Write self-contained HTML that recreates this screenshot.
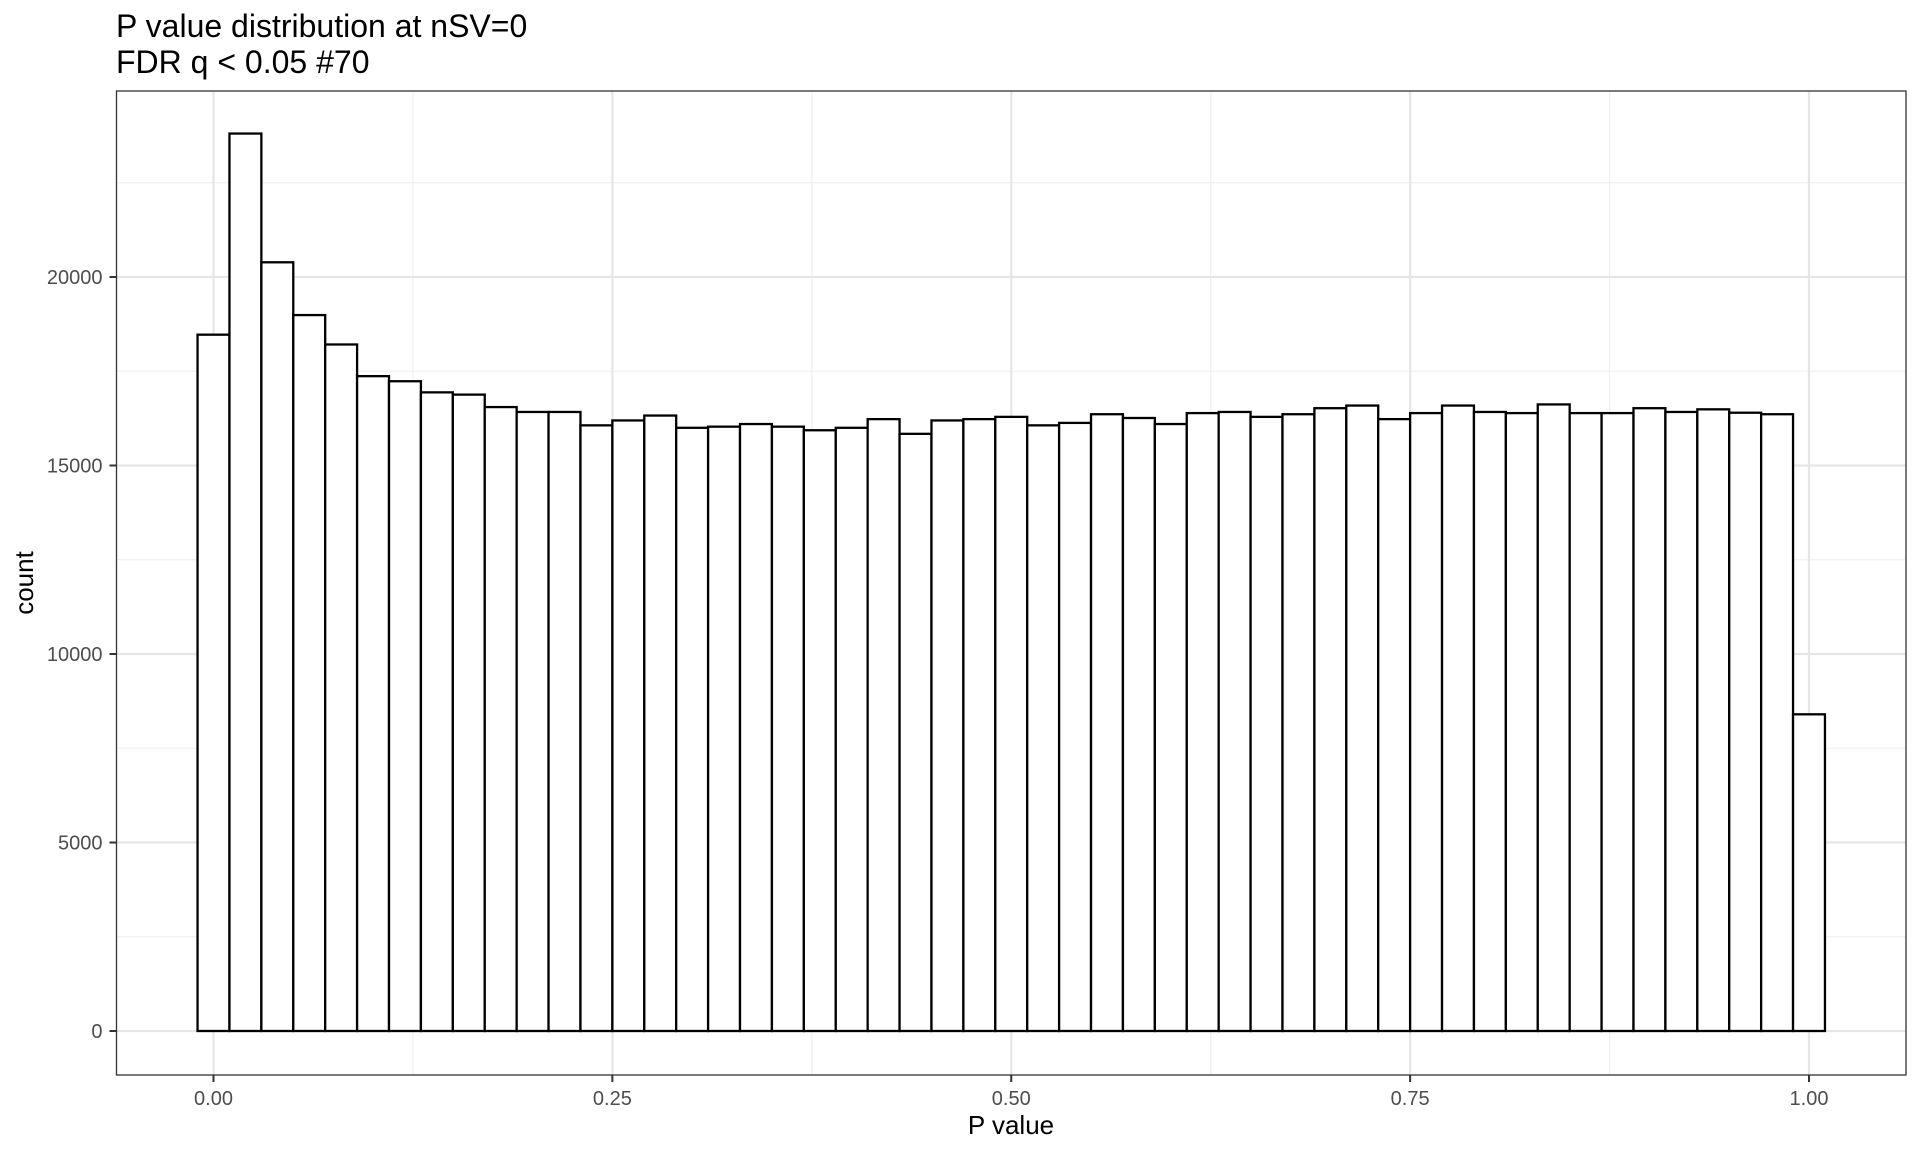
<!DOCTYPE html>
<html><head><meta charset="utf-8"><style>
html,body{margin:0;padding:0;background:#fff;}
svg{display:block;font-family:"Liberation Sans",Arial,sans-serif;}
</style></head><body>
<svg id="chart" width="1920" height="1152" viewBox="0 0 1920 1152">
<text x="116" y="37" font-size="32" fill="#000">P value distribution at nSV=0</text>
<text x="116" y="73" font-size="32" fill="#000">FDR q &lt; 0.05 #70</text>
<g id="grid"></g>
<g id="bars"></g>
<rect x="116.5" y="91" width="1789.5" height="984" fill="none" stroke="#333" stroke-width="1.3"/>
<g id="axes"></g>
<text x="1011" y="1134" font-size="26" text-anchor="middle" fill="#000">P value</text>
<text transform="translate(33,583) rotate(-90)" font-size="26" text-anchor="middle" fill="#000">count</text>
</svg>
<script>
const binCenters = [0,0.02,0.04,0.06,0.08,0.10,0.12,0.14,0.16,0.18,0.20,0.22,0.24,0.26,0.28,0.30,0.32,0.34,0.36,0.38,0.40,0.42,0.44,0.46,0.48,0.50,0.52,0.54,0.56,0.58,0.60,0.62,0.64,0.66,0.68,0.70,0.72,0.74,0.76,0.78,0.80,0.82,0.84,0.86,0.88,0.90,0.92,0.94,0.96,0.98,1.00];
const counts = [18470,23805,20390,18990,18210,17370,17235,16940,16880,16550,16420,16420,16065,16195,16325,16000,16030,16100,16030,15935,16000,16230,15840,16195,16230,16290,16065,16130,16360,16260,16100,16390,16420,16290,16360,16520,16590,16230,16390,16590,16420,16390,16620,16390,16390,16520,16420,16490,16400,16360,8400];
const binWidth = 0.02;
const xTicks = [0,0.25,0.5,0.75,1.0];
const xTickLabels = ["0.00","0.25","0.50","0.75","1.00"];
const xMinor = [0.125,0.375,0.625,0.875];
const yTicks = [0,5000,10000,15000,20000];
const yTickLabels = ["0","5000","10000","15000","20000"];
const yMinor = [2500,7500,12500,17500,22500];

const NS="http://www.w3.org/2000/svg";
const X0=213.5, XS=1595.5, Y0=1031, YS=0.0377;
const PL=116.5, PR=1906, PT=91, PB=1075;
function xs(v){return X0+v*XS;}
function ys(v){return Y0-v*YS;}
function mk(tag,attrs,parent){const e=document.createElementNS(NS,tag);for(const k in attrs)e.setAttribute(k,attrs[k]);parent.appendChild(e);return e;}
const grid=document.getElementById('grid'), bars=document.getElementById('bars'), axes=document.getElementById('axes');
mk('rect',{x:PL,y:PT,width:PR-PL,height:PB-PT,fill:'#fff'},grid);
xMinor.forEach(v=>{const l=mk('line',{x1:xs(v),x2:xs(v),y1:PT,y2:PB,stroke:'#f0f0f0','stroke-width':1.2},grid);

});
yMinor.forEach(v=>{const l=mk('line',{x1:PL,x2:PR,y1:ys(v),y2:ys(v),stroke:'#f0f0f0','stroke-width':1.2},grid);

});
xTicks.forEach(v=>{const l=mk('line',{x1:xs(v),x2:xs(v),y1:PT,y2:PB,stroke:'#e6e6e6','stroke-width':2.2},grid);

});
yTicks.forEach(v=>{const l=mk('line',{x1:PL,x2:PR,y1:ys(v),y2:ys(v),stroke:'#e6e6e6','stroke-width':2.2},grid);

});
binCenters.forEach((c,i)=>{const x1=xs(c-binWidth/2),x2=xs(c+binWidth/2);
const r=mk('rect',{x:x1,y:ys(counts[i]),width:x2-x1,height:ys(0)-ys(counts[i]),fill:'#fff',stroke:'#000','stroke-width':2.3},bars);

});
xTicks.forEach((v,i)=>{mk('line',{x1:xs(v),x2:xs(v),y1:PB,y2:PB+7,stroke:'#333','stroke-width':2},axes);
const t=mk('text',{x:xs(v),y:PB+30,'font-size':20,'text-anchor':'middle',fill:'#4d4d4d'},axes);t.textContent=xTickLabels[i];

});
yTicks.forEach((v,i)=>{mk('line',{x1:PL-7,x2:PL,y1:ys(v),y2:ys(v),stroke:'#333','stroke-width':2},axes);
const t=mk('text',{x:PL-14,y:ys(v)+7,'font-size':20,'text-anchor':'end',fill:'#4d4d4d'},axes);t.textContent=yTickLabels[i];

});
</script>
</body></html>
